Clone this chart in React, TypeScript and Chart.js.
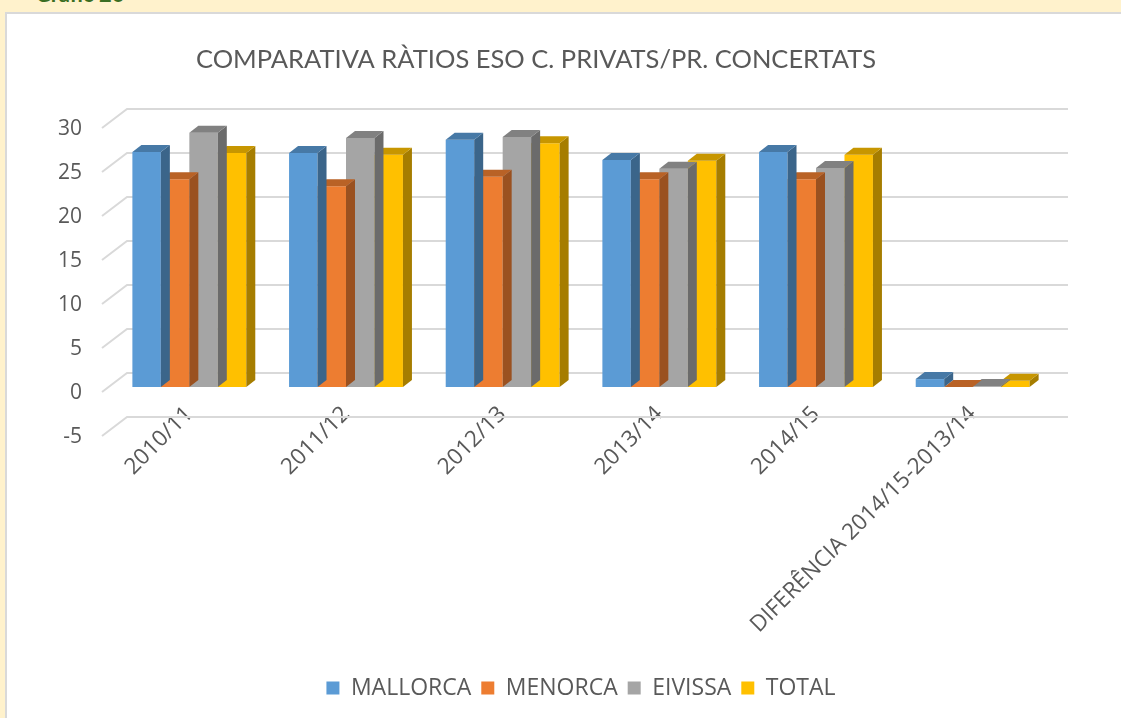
import React, { useEffect, useRef } from "react";
import { Chart, registerables } from "chart.js";

Chart.register(...registerables);

const categories = ["2010/11", "2011/12", "2012/13", "2013/14", "2014/15", "DIFERÊNCIA 2014/15-2013/14"];
const seriesNames = ["MALLORCA", "MENORCA", "EIVISSA", "TOTAL"];
const mallorca = [26.7, 26.6, 28.1, 25.8, 26.7, 0.9];
const menorca = [23.6, 22.8, 23.9, 23.6, 23.6, 0.0];
const eivissa = [28.9, 28.3, 28.4, 24.8, 24.9, 0.1];
const total = [26.6, 26.4, 27.7, 25.7, 26.4, 0.7];
const seriesColors = ["#5B9BD5", "#ED7D31", "#A5A5A5", "#FFC000"];
const titleText = "COMPARATIVA RÀTIOS ESO C. PRIVATS/PR. CONCERTATS";

const TEXT = "#595959";
const DX = 9;
const DY = -7;

function shade(hex: string, f: number) {
  const n = parseInt(hex.slice(1), 16);
  const r = Math.round(((n >> 16) & 255) * f);
  const g = Math.round(((n >> 8) & 255) * f);
  const b = Math.round((n & 255) * f);
  return `rgb(${r},${g},${b})`;
}

const threeD = {
  id: "threeD",
  beforeDatasetsDraw(chart: any) {
    const { ctx, chartArea, scales } = chart;
    const y = scales.y;
    const wallL = chartArea.left + 16;
    const wallR = chartArea.right + 17;
    ctx.save();
    ctx.strokeStyle = "#D9D9D9";
    ctx.lineWidth = 2;
    y.ticks.forEach((t: any) => {
      const yb = y.getPixelForValue(t.value) - 14;
      ctx.beginPath();
      ctx.moveTo(wallL - 25, yb + 19);
      ctx.lineTo(wallL, yb);
      ctx.lineTo(wallR, yb);
      ctx.stroke();
    });
    ctx.restore();
  },
  afterDatasetDraw(chart: any, args: any) {
    const { ctx } = chart;
    const color = seriesColors[args.index];
    ctx.save();
    args.meta.data.forEach((bar: any) => {
      const { x, y, base, width } = bar.getProps(["x", "y", "base", "width"], true);
      const l = x - width / 2;
      const r = x + width / 2;
      const top = Math.min(y, base);
      const bottom = Math.max(y, base);
      ctx.fillStyle = shade(color, 0.65);
      ctx.beginPath();
      ctx.moveTo(r, top);
      ctx.lineTo(r + DX, top + DY);
      ctx.lineTo(r + DX, bottom + DY);
      ctx.lineTo(r, bottom);
      ctx.closePath();
      ctx.fill();
      ctx.fillStyle = shade(color, 0.78);
      ctx.beginPath();
      ctx.moveTo(l, top);
      ctx.lineTo(l + DX, top + DY);
      ctx.lineTo(r + DX, top + DY);
      ctx.lineTo(r, top);
      ctx.closePath();
      ctx.fill();
    });
    ctx.restore();
  },
};

export default function App() {
  const ref = useRef<HTMLCanvasElement>(null);

  useEffect(() => {
    if (!ref.current) return;
    const values = [mallorca, menorca, eivissa, total];
    const chart = new Chart(ref.current, {
      type: "bar",
      data: {
        labels: categories,
        datasets: seriesNames.map((name, i) => ({
          label: name,
          data: values[i],
          backgroundColor: seriesColors[i],
          borderWidth: 0,
          categoryPercentage: 0.727,
          barPercentage: 1,
        })),
      },
      options: {
        responsive: false,
        animation: false,
        layout: { padding: { left: 21, right: 70, top: 0, bottom: 8.5 } },
        plugins: {
          title: {
            display: true,
            text: titleText,
            color: TEXT,
            font: { family: "Lato", size: 25.5, weight: "normal" },
            padding: { top: 44.7, bottom: 47.7 },
          },
          legend: {
            position: "bottom",
            fullSize: false,
            labels: {
              boxWidth: 13,
              boxHeight: 13,
              color: TEXT,
              font: { family: "Open Sans", size: 23 },
              padding: 10,
            },
          },
          tooltip: { enabled: false },
        },
        scales: {
          x: {
            grid: { display: false, drawTicks: false },
            border: { display: false },
            ticks: {
              color: TEXT,
              font: { family: "Open Sans", size: 22.5 },
              maxRotation: 45,
              minRotation: 45,
              padding: -30,
              autoSkip: false,
            },
            afterFit(s: any) {
              s.height = 235.5;
              s._computeLabelArea = () => undefined;
            },
          },
          y: {
            min: -5,
            max: 30,
            ticks: {
              stepSize: 5,
              color: TEXT,
              font: { family: "Open Sans", size: 21 },
              padding: 29,
              labelOffset: 6,
            },
            grid: { display: false, drawTicks: false },
            border: { display: false },
            afterFit(s: any) {
              s.width = 90;
            },
          },
        },
      },
      plugins: [threeD],
    } as any);
    return () => chart.destroy();
  }, []);

  return (
    <div style={{ position: "fixed", inset: 0, background: "#FFF2CC", overflow: "hidden" }}>
      <div
        style={{
          position: "absolute",
          left: 35,
          top: -17,
          font: "bold 22px Lato",
          lineHeight: "22px",
          color: "#3B6E22",
          whiteSpace: "nowrap",
        }}
      >
        Gràfic 26
      </div>
      <div
        style={{
          position: "absolute",
          left: 5,
          top: 12,
          width: 1140,
          height: 730,
          background: "#FFFFFF",
          border: "2px solid #D9D9D9",
          boxSizing: "border-box",
        }}
      />
      <canvas ref={ref} width={1121} height={718} style={{ position: "absolute", left: 0, top: 0 }} />
    </div>
  );
}
